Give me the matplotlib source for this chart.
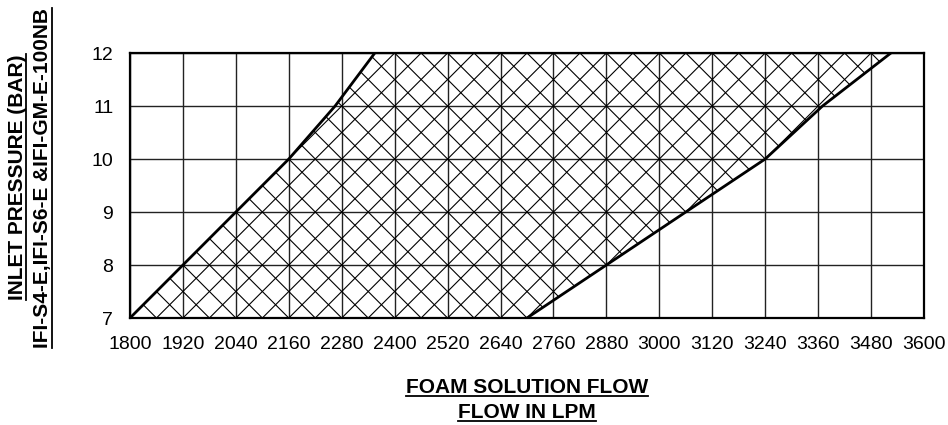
import numpy as np
import matplotlib
matplotlib.use("Agg")
import matplotlib.pyplot as plt
from matplotlib.patches import Polygon
from matplotlib.lines import Line2D

plt.rcParams['font.family'] = ['Liberation Sans', 'DejaVu Sans']

# boundary curves of the operating zone (flow in LPM vs inlet pressure in bar)
left_flow = [1800, 1920, 2040, 2160, 2265, 2355]
left_pres = [7, 8, 9, 10, 11, 12]
right_flow = [2700, 2880, 3060, 3240, 3370, 3525]
right_pres = [7, 8, 9, 10, 11, 12]

x_ticks = [1800, 1920, 2040, 2160, 2280, 2400, 2520, 2640, 2760, 2880,
           3000, 3120, 3240, 3360, 3480, 3600]
y_ticks = [7, 8, 9, 10, 11, 12]

fig = plt.figure(figsize=(9.48, 4.25), dpi=100)
ax = fig.add_axes([130 / 948, 1 - 318 / 425, 794 / 948, 265 / 425])

ax.set_xlim(1800, 3600)
ax.set_ylim(7, 12)
ax.set_xticks(x_ticks)
ax.set_yticks(y_ticks)
ax.tick_params(axis='both', length=0, labelsize=14)
ax.tick_params(axis='x', pad=13)
ax.tick_params(axis='y', pad=12)
ax.grid(True, color='#222222', linewidth=1.0)
ax.set_axisbelow(True)
for sp in ax.spines.values():
    sp.set_linewidth(1.6)
    sp.set_color('black')

# shaded zone: left curve up, top edge, right curve down
poly_x = left_flow + right_flow[::-1]
poly_y = left_pres + right_pres[::-1]
zone = Polygon(np.column_stack([poly_x, poly_y]), closed=True,
               facecolor='none', edgecolor='none')
ax.add_patch(zone)

# cross hatch, diagonals every 60 LPM / 0.5 bar, clipped to the zone
ys = np.array([6.5, 12.5])
for k in np.arange(-40, 50):
    xa = 1800 + 120 * (ys - 7 + k * 0.5)
    xb = 1800 + 120 * (k * 0.5 - (ys - 7))
    for xs in (xa, xb):
        ln, = ax.plot(xs, ys, color='black', linewidth=0.8)
        ln.set_clip_path(zone)

ax.plot(left_flow, left_pres, color='black', linewidth=2.0, solid_capstyle='round')
ax.plot(right_flow, right_pres, color='black', linewidth=2.0, solid_capstyle='round')

# axis titles, bold and underlined
H = 425.0
W = 948.0
t1 = fig.text(527 / W, 1 - 393 / H, 'FOAM SOLUTION FLOW', ha='center',
              va='baseline', fontsize=15, fontweight='bold')
t2 = fig.text(527 / W, 1 - 418 / H, 'FLOW IN LPM', ha='center',
              va='baseline', fontsize=15, fontweight='bold')
t3 = fig.text(23 / W, 1 - 177 / H, 'INLET PRESSURE (BAR)', ha='center',
              va='baseline', rotation=90, rotation_mode='anchor',
              fontsize=15, fontweight='bold')
t4 = fig.text(48.5 / W, 1 - 178 / H, 'IFI-S4-E,IFI-S6-E &IFI-GM-E-100NB',
              ha='center', va='baseline', rotation=90, rotation_mode='anchor',
              fontsize=15, fontweight='bold')

fig.canvas.draw()
r = fig.canvas.get_renderer()

def underline(t, vertical=False, off=3.0):
    bb = t.get_window_extent(r)
    if vertical:
        x = (t.get_position()[0] * W + off) / W
        fig.add_artist(Line2D([x, x], [bb.y0 / H, bb.y1 / H],
                              transform=fig.transFigure, color='black', linewidth=1.3))
    else:
        y = (t.get_position()[1] * H - off) / H
        fig.add_artist(Line2D([bb.x0 / W, bb.x1 / W], [y, y],
                              transform=fig.transFigure, color='black', linewidth=1.3))

underline(t1)
underline(t2)
underline(t3, vertical=True)
underline(t4, vertical=True)

fig.savefig('out.png', dpi=100)
